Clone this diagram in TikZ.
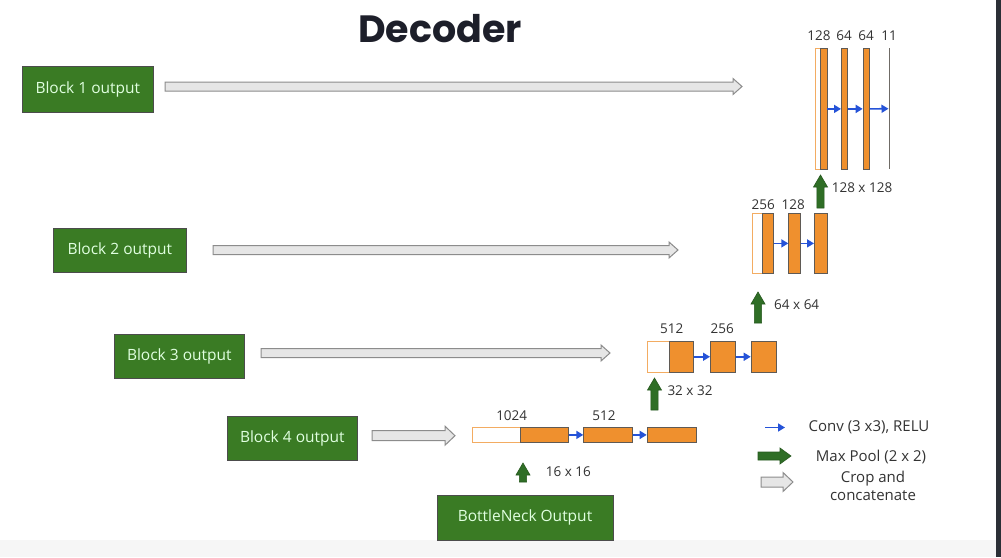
\documentclass[tikz,border=0pt]{standalone}
\usepackage{fontspec}
\setmainfont{Open Sans}
\newfontfamily\titlefont{Poppins}
\usetikzlibrary{arrows.meta}
\definecolor{orangefm}{HTML}{EF902E}
\definecolor{fmborder}{HTML}{5F5A55}
\definecolor{boxgreen}{HTML}{3A7B24}
\definecolor{arrgreen}{HTML}{2F6E26}
\definecolor{convblue}{HTML}{2553D8}
\definecolor{cropfill}{HTML}{E6E6E6}
\definecolor{cropdraw}{HTML}{8C8C8C}
\definecolor{titlecol}{HTML}{1D1F2A}
\definecolor{txtcol}{HTML}{333333}
\definecolor{strip}{HTML}{2B2F36}
\newcommand{\grayarrow}[6]{%
  \filldraw[fill=cropfill, draw=cropdraw, line width=1pt, line join=miter]
    (#1,{#3-#4}) -- ({#2-#6},{#3-#4}) -- ({#2-#6},{#3-#5}) -- (#2,#3)
    -- ({#2-#6},{#3+#5}) -- ({#2-#6},{#3+#4}) -- (#1,{#3+#4}) -- cycle;}
\newcommand{\greenup}[3]{%
  \filldraw[fill=arrgreen, draw=arrgreen!80!black, line width=0.6pt]
    ({#1-3.6},#2) -- ({#1-3.6},{#3+12}) -- ({#1-7},{#3+12}) -- (#1,#3)
    -- ({#1+7},{#3+12}) -- ({#1+3.6},{#3+12}) -- ({#1+3.6},#2) -- cycle;}
\newcommand{\greenright}[3]{%
  \filldraw[fill=arrgreen, draw=arrgreen!80!black, line width=0.6pt]
    (#1,{#3-4}) -- ({#2-11},{#3-4}) -- ({#2-11},{#3-8}) -- (#2,#3)
    -- ({#2-11},{#3+8}) -- ({#2-11},{#3+4}) -- (#1,{#3+4}) -- cycle;}
\tikzset{
  blk/.style={draw=gray!60!black, line width=0.6pt, fill=boxgreen, text=white!88!green,
    font=\fontsize{15.5}{18}\selectfont, inner sep=0pt, anchor=north west},
  fm/.style={draw=fmborder, fill=orangefm, line width=0.8pt, inner sep=0pt, anchor=north west},
  fmw/.style={draw=orangefm!75, fill=white, line width=0.8pt, inner sep=0pt, anchor=north west},
  conv/.style={convblue, line width=1.6pt, -{Triangle[length=7pt,width=8pt]}},
  lbl/.style={font=\fontsize{13.5}{15}\selectfont, text=txtcol, inner sep=0pt},
  leg/.style={font=\fontsize{15}{18}\selectfont, text=txtcol, inner sep=0pt, align=center}
}
\begin{document}
\begin{tikzpicture}[x=1pt,y=-1pt]
\useasboundingbox (0,0) rectangle (1001,557);
\fill[white] (0,0) rectangle (1001,557);
\fill[gray!7] (0,540) rectangle (996,557);
\fill[strip] (996,0) rectangle (1001,557);

% title
\node[font=\titlefont\bfseries\fontsize{38}{44}\selectfont, text=titlecol] (title) at (440,29) {Decoder};

% green block nodes
\node[blk, minimum width=131.6pt, minimum height=45.5pt] (b1) at (21.7,66) {Block 1 output};
\node[blk, minimum width=133pt, minimum height=44pt] (b2) at (53,228) {Block 2 output};
\node[blk, minimum width=130pt, minimum height=44pt] (b3) at (114,334) {Block 3 output};
\node[blk, minimum width=130pt, minimum height=44pt] (b4) at (227,416) {Block 4 output};
\node[blk, minimum width=176pt, minimum height=45pt] (bn) at (436.7,495) {BottleNeck Output};

% crop and concatenate arrows
\grayarrow{165}{742}{86.5}{4.5}{8}{9}
\grayarrow{213}{678}{250}{4.5}{8}{9}
\grayarrow{261}{610}{353}{4.5}{8}{9}
\grayarrow{372}{455}{435.7}{5}{9.5}{10}

% row 1
\node[fmw, minimum width=5.5pt, minimum height=121pt] (r1a) at (814.5,48) {};
\node[fm, minimum width=6.5pt, minimum height=121pt] (r1b) at (820,48) {};
\node[fm, minimum width=6.3pt, minimum height=121pt] (r1c) at (841,48) {};
\node[fm, minimum width=6.3pt, minimum height=121pt] (r1d) at (862.7,48) {};
\node[fill=fmborder!90, inner sep=0pt, minimum width=1.6pt, minimum height=121pt, anchor=north west] (r1e) at (888.5,48) {};
\draw[conv] (r1b.east) -- (r1c.west);
\draw[conv] (r1d.west -| r1c.east) -- (r1d.west);
\draw[conv] (r1d.east) -- (r1e.west);
\node[lbl] (l1a) at (819,36) {128};
\node[lbl] (l1b) at (844,36) {64};
\node[lbl] (l1c) at (866,36) {64};
\node[lbl] (l1d) at (889,36) {11};
\greenup{820.5}{208}{175}
\node[lbl] (s1) at (862,188) {128 x 128};

% row 2
\node[fmw, minimum width=10pt, minimum height=59.4pt] (r2a) at (751.7,213.3) {};
\node[fm, minimum width=11.6pt, minimum height=59.4pt] (r2b) at (761.7,213.3) {};
\node[fm, minimum width=11.7pt, minimum height=59.4pt] (r2c) at (788.3,213.3) {};
\node[fm, minimum width=12.7pt, minimum height=59.4pt] (r2d) at (814,213.3) {};
\draw[conv] (r2b.east) -- (r2c.west);
\draw[conv] (r2c.east) -- (r2d.west);
\node[lbl] (l2a) at (763.3,205) {256};
\node[lbl] (l2b) at (793.3,205) {128};
\greenup{758}{323}{292}
\node[lbl] (s2) at (796.7,305) {64 x 64};

% row 3
\node[fmw, minimum width=22.3pt, minimum height=30.7pt] (r3a) at (646.7,341) {};
\node[fm, minimum width=24.3pt, minimum height=30.7pt] (r3b) at (669,341) {};
\node[fm, minimum width=25pt, minimum height=30.7pt] (r3c) at (710,341) {};
\node[fm, minimum width=25pt, minimum height=30.7pt] (r3d) at (750.7,341) {};
\draw[conv] (r3b.east) -- (r3c.west);
\draw[conv] (r3c.east) -- (r3d.west);
\node[lbl] (l3a) at (671.7,329) {512};
\node[lbl] (l3b) at (722.3,329) {256};
\greenup{654.5}{410}{378}
\node[lbl] (s3) at (690,390.5) {32 x 32};

% row 4
\node[fmw, minimum width=48.3pt, minimum height=15.6pt] (r4a) at (471.7,426.7) {};
\node[fm, minimum width=48.3pt, minimum height=15.6pt] (r4b) at (520,426.7) {};
\node[fm, minimum width=48.4pt, minimum height=15.6pt] (r4c) at (583.3,426.7) {};
\node[fm, minimum width=49pt, minimum height=15.6pt] (r4d) at (646.7,426.7) {};
\draw[conv] (r4b.east) -- (r4c.west);
\draw[conv] (r4c.east) -- (r4d.west);
\node[lbl] (l4a) at (511.7,416) {1024};
\node[lbl] (l4b) at (604,416) {512};
\greenup{523}{482}{463}
\node[lbl] (s4) at (568.3,471.5) {16 x 16};

% legend
\coordinate (lc1) at (765,427.5);
\coordinate (lc2) at (785,427.5);
\draw[conv] (lc1) -- (lc2);
\node[leg] (t1) at (869,427) {Conv (3 x3), RELU};
\greenright{758}{791}{456}
\node[leg] (t2) at (871,457) {Max Pool (2 x 2)};
\grayarrow{761}{793}{482}{5}{9.5}{10}
\node[leg] (t3) at (873,485.5) {Crop and\\concatenate};
\end{tikzpicture}
\end{document}
